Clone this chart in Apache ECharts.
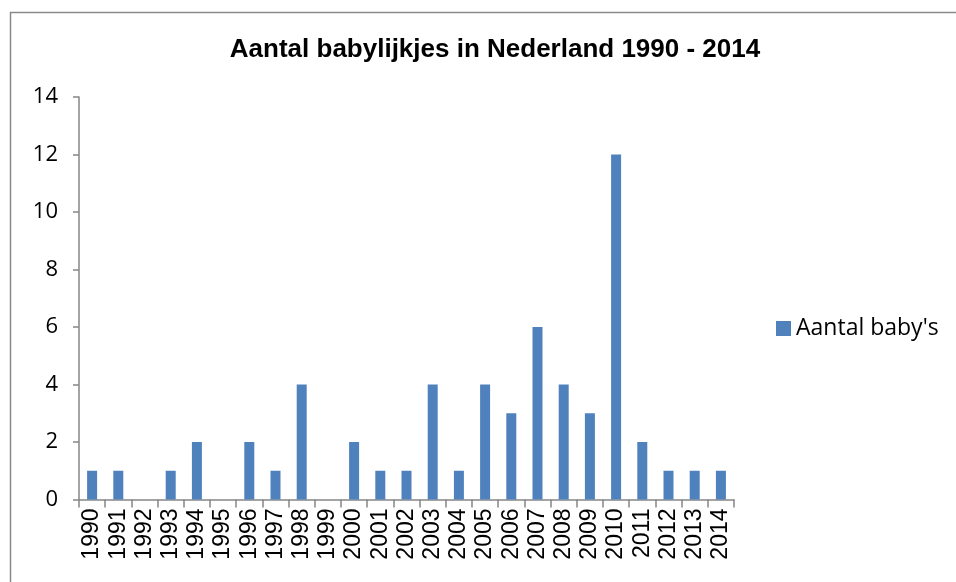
<!DOCTYPE html>
<html>
<head>
<meta charset="utf-8">
<script src="https://cdn.jsdelivr.net/npm/echarts@6/dist/echarts.min.js"></script>
<style>html,body{margin:0;padding:0;background:#fff}#c{width:956px;height:582px}</style>
</head>
<body>
<div id="c"></div>
<script>
const categories = ['1990','1991','1992','1993','1994','1995','1996','1997','1998','1999','2000','2001','2002','2003','2004','2005','2006','2007','2008','2009','2010','2011','2012','2013','2014'];
const values = [1,1,0,1,2,0,2,1,4,0,2,1,1,4,1,4,3,6,4,3,12,2,1,1,1];
const seriesName = "Aantal baby's";
const titleText = 'Aantal babylijkjes in Nederland 1990 - 2014';

const chart = echarts.init(document.getElementById('c'), null, {renderer:'canvas'});
chart.setOption({
  animation: false,
  backgroundColor: '#fff',
  title: {
    text: titleText, left: 490, top: 32, textAlign: 'center',
    textStyle: {fontFamily: 'Liberation Sans', fontWeight: 'bold', fontSize: 26, color: '#000'}
  },
  graphic: [{type:'rect', shape:{x:10.5, y:12.5, width:1000, height:1000}, style:{fill:'none', stroke:'#8a8a8a', lineWidth:1.5}, silent:true}],
  legend: {
    data: [seriesName], orient: 'vertical', left: 771, top: 312, padding: 5,
    icon: 'rect', itemWidth: 15, itemHeight: 15, itemGap: 6,
    textStyle: {fontFamily: 'Open Sans', fontSize: 23, color: '#000'}
  },
  grid: {left: 79, right: 222, top: 97, bottom: 82.5, containLabel: false},
  xAxis: {
    type: 'category', data: categories, boundaryGap: true,
    axisLine: {lineStyle: {color: '#868686', width: 1.5}},
    axisTick: {show: true, length: 8, interval: 0, lineStyle: {color: '#868686', width: 1.5}},
    axisLabel: {interval: 0, rotate: 90, margin: 9, fontFamily: 'Liberation Sans', fontSize: 23, color: '#000'}
  },
  yAxis: {
    type: 'value', min: 0, max: 14, interval: 2,
    splitLine: {show: false},
    axisLine: {show: true, lineStyle: {color: '#868686', width: 1.5}},
    axisTick: {show: true, length: 6, lineStyle: {color: '#868686', width: 1.5}},
    axisLabel: {margin: 21, fontFamily: 'Open Sans', fontSize: 22, color: '#000'}
  },
  series: [{
    name: seriesName, type: 'bar', data: values, barWidth: 10,
    itemStyle: {color: '#4F81BD'}
  }]
});
</script>
</body>
</html>
